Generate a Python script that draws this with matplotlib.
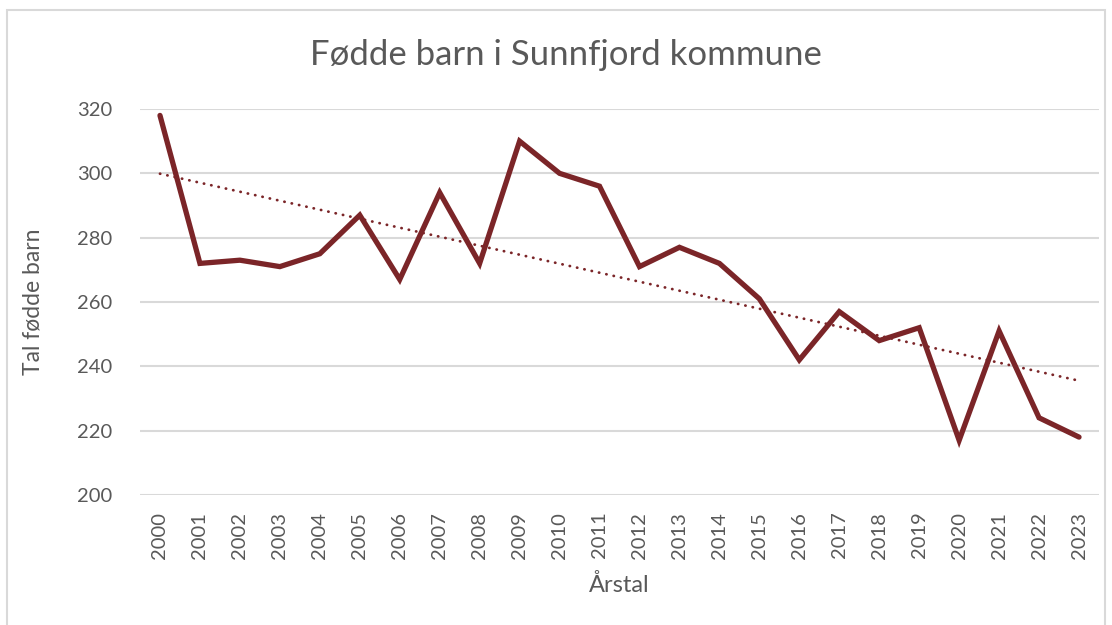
#!/usr/bin/env python3
"""Fødde barn i Sunnfjord kommune - line chart with linear trend."""
import numpy as np
import matplotlib
matplotlib.use('Agg')
import matplotlib.pyplot as plt
import matplotlib.patches as mpatches

# Data
YEARS = [str(y) for y in range(2000, 2024)]
BIRTHS = [318, 272, 273, 271, 275, 287, 267, 294, 272, 310, 300, 296,
          271, 277, 272, 261, 242, 257, 248, 252, 217, 251, 224, 218]

# Styling
LINE_COLOR = '#7B2528'
TEXT_COLOR = '#595959'
GRID_COLOR = '#D9D9D9'

plt.rcParams['font.family'] = ['Lato', 'DejaVu Sans']

fig = plt.figure(figsize=(11.12, 6.25), dpi=100)
ax = fig.add_axes([140 / 1112, 1 - 495 / 625, (1099 - 140) / 1112, (495 - 109) / 625])

x = np.arange(len(YEARS))
ax.plot(x, BIRTHS, color=LINE_COLOR, lw=3.8, solid_joinstyle='miter',
        solid_capstyle='round', zorder=3)

# Linear trendline
coef = np.polyfit(x, BIRTHS, 1)
ax.plot(x, np.polyval(coef, x), color=LINE_COLOR, lw=2.0,
        linestyle=(0, (0.1, 2.6)), dash_capstyle='round', zorder=2)

ax.set_xlim(-0.5, len(YEARS) - 0.5)
ax.set_ylim(200, 320)
ax.set_yticks(range(200, 321, 20))
ax.set_xticks(x)
ax.set_xticklabels(YEARS, rotation=90)
ax.tick_params(axis='both', length=0, labelsize=14.5, colors=TEXT_COLOR)
ax.tick_params(axis='x', pad=12)
ax.tick_params(axis='y', pad=20)

ax.grid(axis='y', color=GRID_COLOR, lw=1.5)
ax.set_axisbelow(True)
for s in ax.spines.values():
    s.set_visible(False)

ax.set_ylabel('Tal fødde barn', fontsize=16.5, color=TEXT_COLOR, labelpad=24)
ax.set_xlabel('Årstal', fontsize=17, color=TEXT_COLOR, labelpad=11)
fig.text(566 / 1112, 1 - 55 / 625, 'Fødde barn i Sunnfjord kommune', ha='center',
         va='center', fontsize=25, color=TEXT_COLOR)

# Chart border (bottom edge lies below the visible area)
fig.patches.append(mpatches.Rectangle((7 / 1112, -0.05), (1105 - 7) / 1112, 1.05 - 10 / 625,
                                      transform=fig.transFigure, fill=False,
                                      edgecolor=GRID_COLOR, lw=1.5))

fig.savefig('out.png', dpi=100, facecolor='white')
